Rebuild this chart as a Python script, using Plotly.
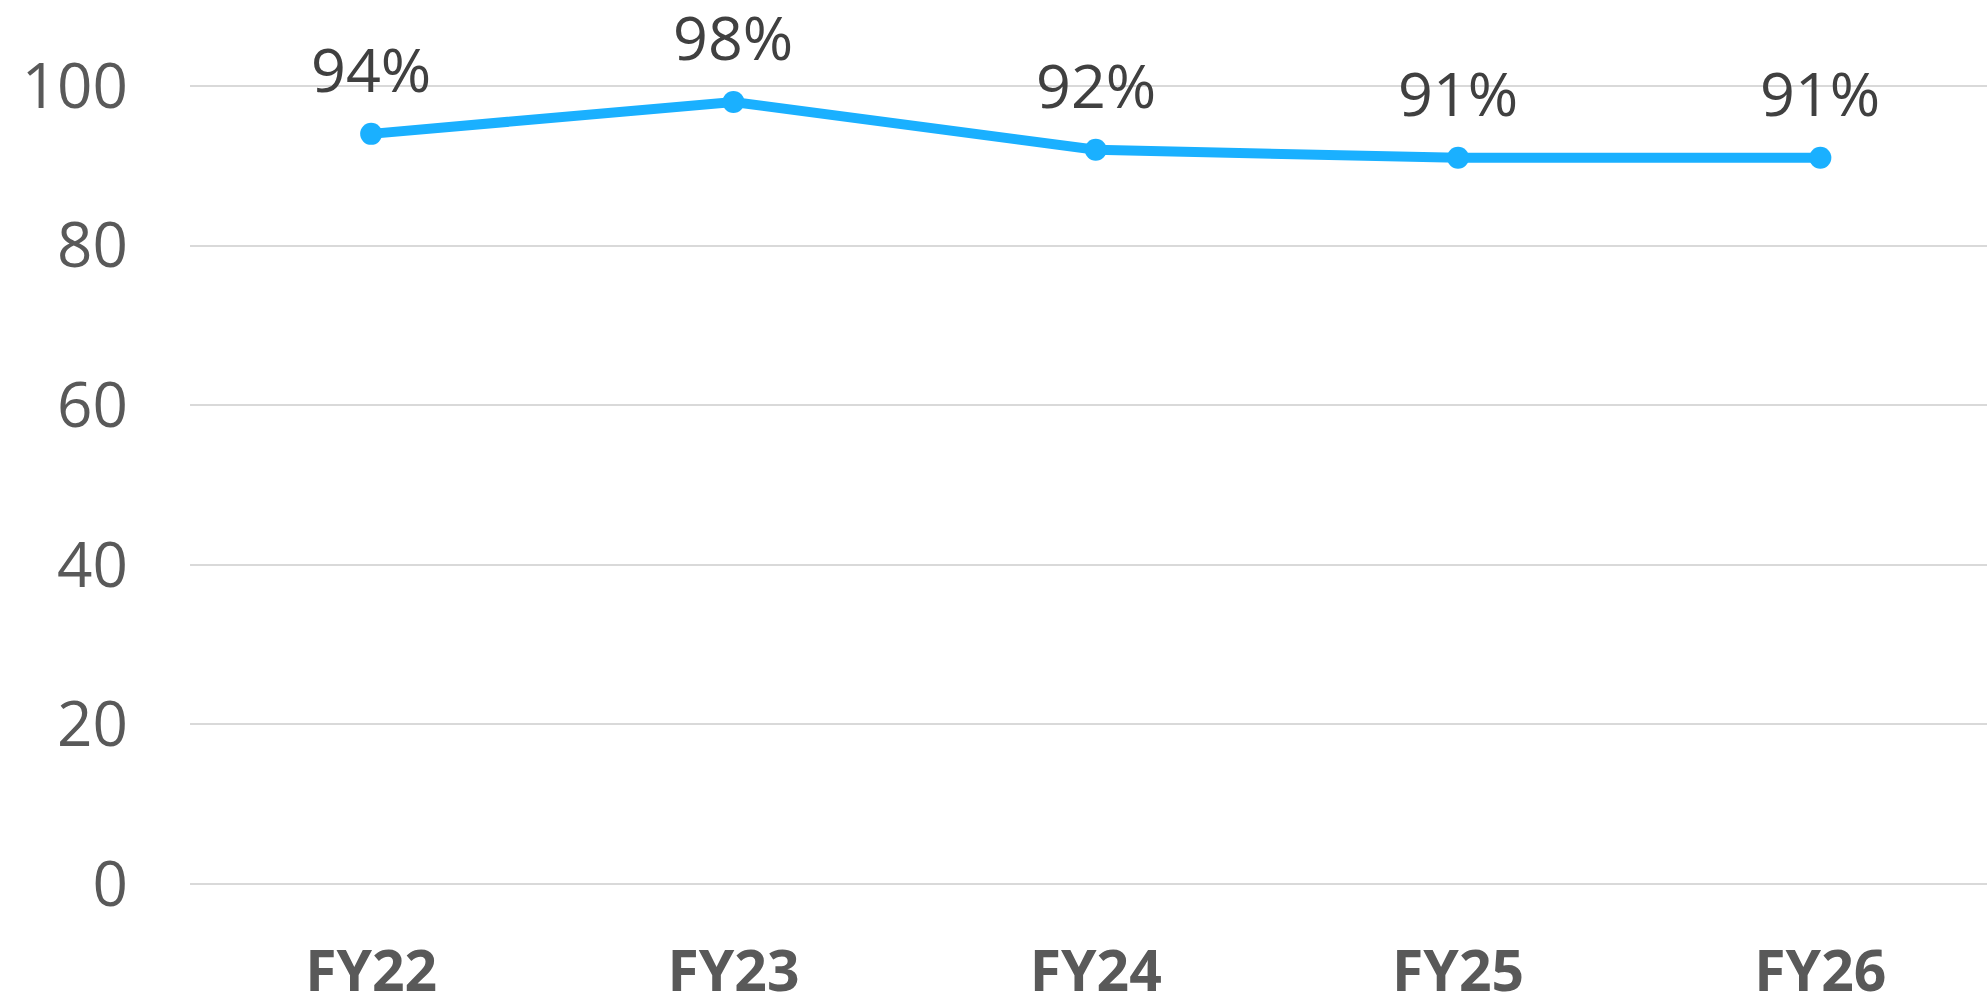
import plotly.graph_objects as go

categories = ["FY22", "FY23", "FY24", "FY25", "FY26"]
values = [94, 98, 92, 91, 91]
labels = ["94%", "98%", "92%", "91%", "91%"]
y_ticks = [0, 20, 40, 60, 80, 100]

xs = list(range(len(categories)))

fig = go.Figure()
fig.add_trace(go.Scatter(
    x=xs,
    y=values,
    mode="lines+markers",
    line=dict(color="#1AB0FF", width=10),
    marker=dict(color="#1AB0FF", size=22),
    cliponaxis=False,
    showlegend=False,
))

for xi, v, t in zip(xs, values, labels):
    fig.add_annotation(
        x=xi, y=v, text=t, showarrow=False,
        xanchor="center", yanchor="bottom", yshift=22,
        font=dict(family="Open Sans", size=61, color="#404040"),
    )

fig.update_layout(
    width=1987, height=1002,
    margin=dict(l=190, r=0, t=82, b=114, autoexpand=False),
    paper_bgcolor="white", plot_bgcolor="white",
    xaxis=dict(
        range=[-0.5, 4.46],
        tickmode="array",
        tickvals=xs,
        ticktext=categories,
        showgrid=False, zeroline=False, showline=False,
        tickfont=dict(family="Open Sans", size=57, color="#595959", weight="bold"),
        ticklabelstandoff=45,
        automargin=False,
    ),
    yaxis=dict(
        range=[-0.5, 100.5],
        tickvals=y_ticks,
        showgrid=True, gridcolor="#D9D9D9", gridwidth=2,
        zeroline=False, showline=False,
        tickfont=dict(family="Open Sans", size=62, color="#595959"),
        ticklabelstandoff=61,
        automargin=False,
    ),
)

fig.write_html(
    "out.html",
    config={"displayModeBar": False},
    post_script="document.body.style.margin='0px';document.body.style.overflow='hidden';",
)
